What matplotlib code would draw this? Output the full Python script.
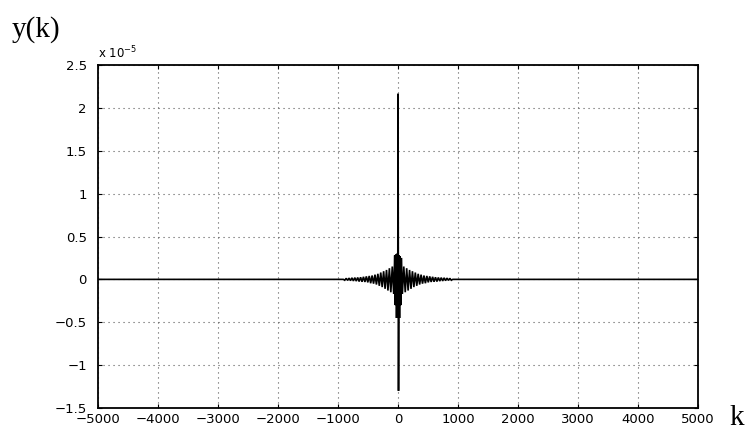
import numpy as np
import matplotlib
matplotlib.use("Agg")
import matplotlib.pyplot as plt

# Values in units of 1e-5 (MATLAB shows "x 10^-5" above the axis)
edge_left_k = [-5000, -912]
edge_left_y = [0.0, 0.0]

left_k = [-888, -864, -840, -816, -792, -768, -744, -720, -696, -672, -648, -624, -600, -576, -552, -528, -504, -480,
          -456, -432, -408, -384, -360, -336, -312, -288, -264, -240, -216, -192, -168, -144, -120, -96, -72]
left_y = [-0.01, 0.012, -0.012, 0.015, -0.015, 0.018, -0.018, 0.02, -0.02, 0.022, -0.025, 0.025, -0.028, 0.03, -0.03, 0.035, -0.035, 0.04,
          -0.045, 0.045, -0.05, 0.055, -0.06, 0.065, -0.075, 0.08, -0.09, 0.095, -0.11, 0.11, -0.13, 0.13, -0.15, 0.15, -0.17]

center_k = [-55, -45, -35, -25, -15, -5, 0, 8, 15, 25, 35, 45, 55]
center_y = [0.28, -0.30, 0.29, -0.45, 0.30, -0.30, 2.165, -1.30, 0.28, -0.45, 0.27, -0.30, 0.25]

right_k = [72, 96, 120, 144, 168, 192, 216, 240, 264, 288, 312, 336, 360, 384, 408, 432, 456, 480,
           504, 528, 552, 576, 600, 624, 648, 672, 696, 720, 744, 768, 792, 816, 840, 864, 888]
right_y = [-0.17, 0.15, -0.15, 0.13, -0.13, 0.11, -0.11, 0.095, -0.09, 0.08, -0.075, 0.065, -0.06, 0.055, -0.05, 0.045, -0.045, 0.04,
           -0.035, 0.035, -0.03, 0.03, -0.028, 0.025, -0.025, 0.022, -0.02, 0.02, -0.018, 0.018, -0.015, 0.015, -0.012, 0.012, -0.01]

edge_right_k = [912, 5000]
edge_right_y = [0.0, 0.0]

xticks = [-5000, -4000, -3000, -2000, -1000, 0, 1000, 2000, 3000, 4000, 5000]
yticks = [-1.5, -1, -0.5, 0, 0.5, 1, 1.5, 2, 2.5]
ytick_labels = ["\u22121.5", "\u22121", "\u22120.5", "0", "0.5", "1", "1.5", "2", "2.5"]
xtick_labels = [("\u2212" + str(-t)) if t < 0 else str(t) for t in xticks]

k = np.array(edge_left_k + left_k + center_k + right_k + edge_right_k)
y = np.array(edge_left_y + left_y + center_y + right_y + edge_right_y)

fig = plt.figure(figsize=(7.52, 4.36), dpi=100)
ax = fig.add_axes([0.1303, 0.0642, 0.798, 0.7867])

ax.plot(k, y, color="black", linewidth=1.2, solid_joinstyle="miter")

ax.set_xlim(-5000, 5000)
ax.set_ylim(-1.5, 2.5)
ax.set_xticks(xticks)
ax.set_xticklabels(xtick_labels)
ax.set_yticks(yticks)
ax.set_yticklabels(ytick_labels)

ax.grid(True, color="0.35", linestyle=(0, (1, 3.5)), linewidth=0.8)
ax.tick_params(direction="in", length=3, width=0.8, top=True, right=True,
               labelsize=9.5, colors="black")
ax.tick_params(axis="x", pad=3.5)
ax.tick_params(axis="y", pad=8)
for sp in ax.spines.values():
    sp.set_linewidth(1.3)
    sp.set_color("black")

ax.text(0.0, 1.012, "x 10$^{-5}$", transform=ax.transAxes, fontsize=8.5,
        ha="left", va="bottom")

fig.text(12 / 752, 1 - 30 / 436, "y(k)", family="Liberation Serif", fontsize=21,
         ha="left", va="center")
fig.text(729 / 752, 1 - 418 / 436, "k", family="Liberation Serif", fontsize=21,
         ha="left", va="center")

fig.savefig("out.png", dpi=100)
